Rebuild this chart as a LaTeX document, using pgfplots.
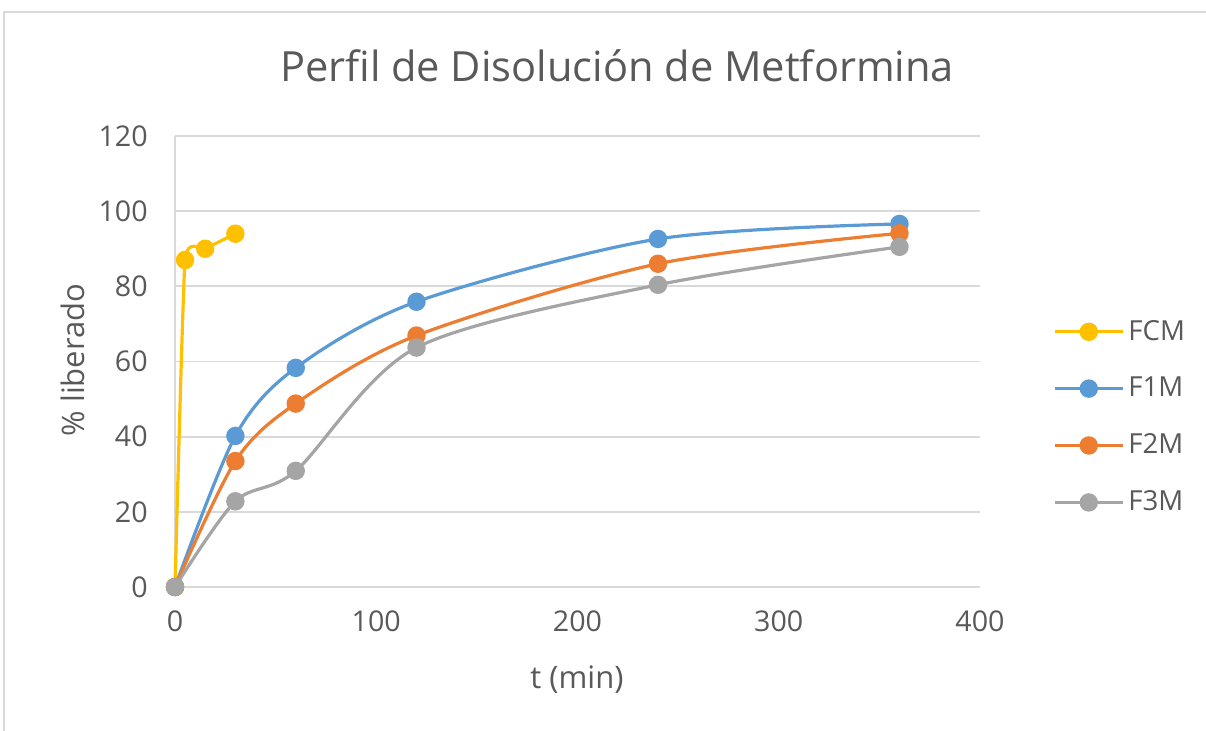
\documentclass[border=0pt]{standalone}
\usepackage{fontspec}
\setmainfont{Open Sans}
\usepackage{pgfplots}
\pgfplotsset{compat=1.18}
\definecolor{cFCM}{HTML}{FFC000}
\definecolor{cF1M}{HTML}{5B9BD5}
\definecolor{cF2M}{HTML}{ED7D31}
\definecolor{cF3M}{HTML}{A5A5A5}
\definecolor{txt}{HTML}{595959}
\definecolor{gridc}{HTML}{D9D9D9}
\begin{document}
\begin{tikzpicture}
\useasboundingbox (0,0) rectangle (603pt,365.5pt);
% chart area frame
\draw[draw=gridc, line width=0.9pt] (2pt,0) -- (2pt,359.5pt) -- (603pt,359.5pt);
\node[text=txt, font=\fontsize{20.8}{24}\selectfont] at (308.5pt,332.5pt) {Perfil de Disolución de Metformina};
\node[text=txt, font=\fontsize{15.5}{18}\selectfont] at (288.5pt,25.5pt) {t (min)};
\node[text=txt, font=\fontsize{15.5}{18}\selectfont, rotate=90] at (36.5pt,185.5pt) {\% liberado};
\begin{axis}[
  at={(87.5pt,72pt)}, anchor=south west,
  scale only axis, width=402.5pt, height=225.5pt,
  xmin=0, xmax=400, ymin=0, ymax=120,
  xtick={0,100,...,400}, ytick={0,20,...,120},
  axis lines=left, axis line style={-, draw=gridc, line width=0.9pt},
  ymajorgrids, major grid style={draw=gridc, line width=0.9pt},
  tick style={draw=none},
  /pgf/number format/assume math mode=true,
  tick label style={text=txt, font=\fontsize{14.3}{17}\selectfont},
  xticklabel style={yshift=-6pt},
  yticklabel style={xshift=-8pt},
  clip=false,
  every axis plot/.append style={line width=1.6pt, smooth, mark=*, mark size=3.8pt},
  legend style={at={(1.083,0.610)}, anchor=north west, draw=none, fill=none,
    font=\fontsize{13.8}{16}\selectfont, text=txt, row sep=13pt,
    /tikz/every even column/.append style={column sep=1pt}},
  legend cell align=left,
  legend image code/.code={\draw[mark repeat=2, mark phase=2] plot coordinates {(0pt,0pt) (17pt,0pt) (34pt,0pt)};},
]
\addplot[color=cFCM, tension=0.25] coordinates {(0,0) (5,87) (15,90) (30,94)};
\addlegendentry{FCM}
\addplot[color=cF1M] coordinates {(0,0) (30,40.2) (60,58.3) (120,75.9) (240,92.6) (360,96.6)};
\addlegendentry{F1M}
\addplot[color=cF2M] coordinates {(0,0) (30,33.5) (60,48.8) (120,66.9) (240,86) (360,94.1)};
\addlegendentry{F2M}
\addplot[color=cF3M] coordinates {(0,0) (30,22.8) (60,30.9) (120,63.7) (240,80.4) (360,90.5)};
\addlegendentry{F3M}
\end{axis}
\end{tikzpicture}
\end{document}
